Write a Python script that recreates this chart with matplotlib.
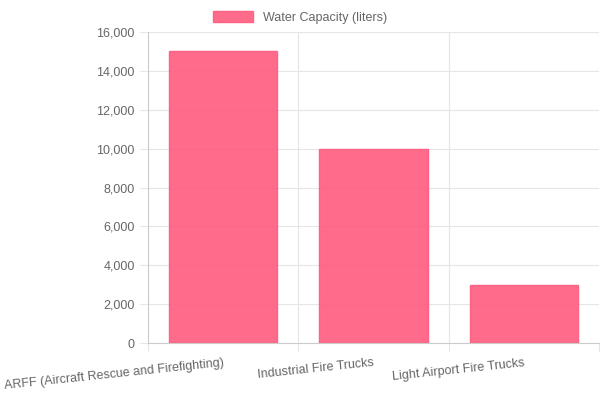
import matplotlib
matplotlib.use("Agg")
import matplotlib.pyplot as plt
from matplotlib.ticker import FuncFormatter, FixedLocator

categories = ["ARFF (Aircraft Rescue and Firefighting)", "Industrial Fire Trucks", "Light Airport Fire Trucks"]
values = [15000, 10000, 3000]
series_label = "Water Capacity (liters)"

plt.rcParams['font.family'] = ['Liberation Sans', 'DejaVu Sans']
fig = plt.figure(figsize=(6, 4), dpi=100)
ax = fig.add_axes([0.2467, 0.1425, 0.7513, 0.7775])
x = list(range(len(categories)))
ax.bar(x, values, width=0.72, color=(1, 99/255, 132/255, 0.95), edgecolor=(1, 99/255, 132/255), linewidth=1, label=series_label, zorder=3)
ax.set_xlim(-0.5, len(categories) - 0.5)
ax.set_ylim(0, 16000)
ax.set_yticks(range(0, 16001, 2000))
ax.yaxis.set_major_formatter(FuncFormatter(lambda v, p: f"{int(v):,}"))
ax.set_xticks(x)
ax.set_xticklabels(categories, rotation=6, ha='right', va='top', rotation_mode='anchor')
ax.xaxis.set_minor_locator(FixedLocator([-0.5, 0.5, 1.5, 2.5]))
ax.grid(True, axis='y', color='#e5e5e5', linewidth=0.8, zorder=0)
ax.grid(True, axis='x', which='minor', color='#e5e5e5', linewidth=0.8, zorder=0)
ax.tick_params(axis='both', which='both', colors='#666666', labelcolor='#666666', labelsize=9, length=6, width=0.8)
ax.tick_params(axis='x', which='major', length=0, pad=10)
ax.tick_params(axis='x', which='minor', length=6, color='#e5e5e5')
ax.tick_params(axis='y', color='#e5e5e5')
for s in ['top', 'right']:
    ax.spines[s].set_visible(False)
for s in ['left', 'bottom']:
    ax.spines[s].set_color('#cccccc')
    ax.spines[s].set_linewidth(0.8)
fig.legend(loc='upper center', bbox_to_anchor=(0.5, 1.0), frameon=False, fontsize=9,
           handlelength=3.2, handleheight=0.9, labelcolor='#666666')
fig.savefig("out.png", dpi=100)
